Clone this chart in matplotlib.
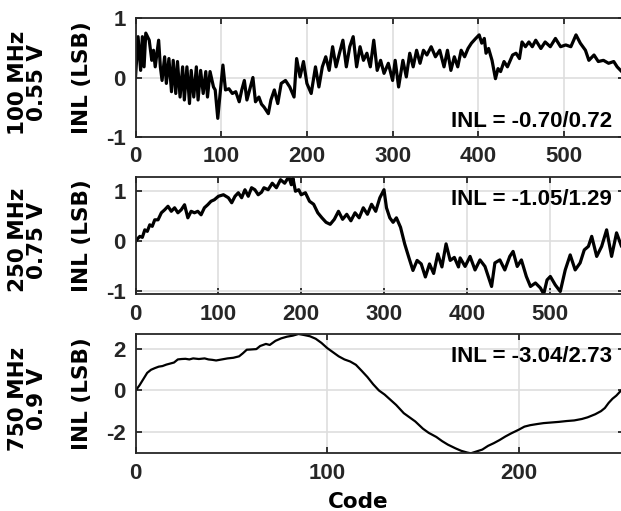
import numpy as np
import matplotlib
matplotlib.use('Agg')
import matplotlib.pyplot as plt

# ---- data (code, INL in LSB) ----
p1_code = [0, 3, 6, 8, 10, 12, 16, 19, 21, 23, 27, 29, 31, 34, 36, 39, 42, 44, 47, 49,
           52, 55, 57, 60, 63, 65, 68, 71, 73, 76, 79, 82, 84, 87, 91, 93, 96, 98, 102, 105,
           109, 113, 117, 121, 124, 127, 130, 134, 137, 140, 144, 147, 150, 155, 158, 162, 166, 170, 175, 180,
           185, 188, 192, 196, 200, 205, 210, 214, 218, 222, 226, 230, 234, 238, 242, 246, 250, 254, 258, 262,
           266, 270, 274, 278, 282, 286, 290, 295, 300, 303, 307, 312, 316, 320, 324, 328, 332, 336, 340, 345,
           350, 355, 360, 364, 368, 372, 376, 380, 384, 388, 392, 397, 401, 404, 407, 409, 412, 416, 420, 423,
           426, 430, 434, 440, 444, 448, 451, 455, 459, 463, 467, 473, 478, 484, 490, 496, 502, 508, 514, 519,
           525, 529, 535, 540, 546, 552, 558, 562, 566, 570]
p1_inl = [0.0, 0.69, 0.12, 0.69, 0.18, 0.75, 0.63, 0.29, 0.46, 0.18, 0.63, 0.18, -0.05, 0.35, -0.10, 0.32, -0.24, 0.29, -0.27, 0.27,
          -0.33, 0.18, -0.38, 0.18, -0.44, 0.12, -0.33, 0.18, -0.38, 0.12, -0.27, 0.10, -0.33, 0.10, -0.16, -0.21, -0.69, -0.38, 0.21, -0.21,
          -0.19, -0.27, -0.24, -0.41, -0.21, -0.05, -0.38, -0.16, 0.0, -0.41, -0.33, -0.45, -0.50, -0.61, -0.38, -0.21, -0.44, -0.10, -0.05, -0.16,
          -0.33, 0.32, 0.01, 0.27, -0.10, -0.27, 0.18, -0.16, 0.18, 0.35, 0.12, 0.52, 0.18, 0.41, 0.63, 0.18, 0.52, 0.69, 0.18, 0.52,
          0.29, 0.41, 0.18, 0.63, 0.12, 0.29, 0.07, 0.24, -0.05, 0.29, -0.16, 0.29, 0.01, 0.41, 0.18, 0.46, 0.24, 0.46, 0.38, 0.52,
          0.35, 0.46, 0.18, 0.46, 0.12, 0.35, 0.18, 0.46, 0.35, 0.49, 0.58, 0.66, 0.72, 0.58, 0.66, 0.41, 0.49, 0.29, -0.02, 0.15,
          0.10, 0.27, 0.18, 0.38, 0.41, 0.32, 0.60, 0.52, 0.60, 0.52, 0.63, 0.49, 0.60, 0.52, 0.66, 0.52, 0.55, 0.52, 0.72, 0.58,
          0.46, 0.29, 0.38, 0.27, 0.29, 0.24, 0.27, 0.18, 0.12, 0.06]

p2_code = [0, 1, 5, 8, 11, 14, 17, 20, 23, 27, 31, 35, 39, 43, 47, 51, 55, 59, 63, 67,
           71, 75, 79, 83, 87, 91, 95, 100, 106, 112, 116, 120, 124, 128, 132, 136, 140, 144, 148, 152,
           155, 160, 165, 170, 175, 180, 185, 188, 190, 193, 197, 200, 205, 210, 215, 220, 225, 230, 235, 240,
           245, 250, 255, 260, 265, 270, 275, 280, 285, 290, 295, 300, 303, 307, 311, 315, 320, 325, 330, 335,
           340, 345, 350, 355, 360, 365, 370, 375, 380, 385, 390, 392, 398, 404, 410, 416, 422, 430, 434, 440,
           446, 452, 456, 461, 466, 472, 477, 483, 489, 493, 497, 501, 507, 513, 519, 525, 531, 537, 542, 547,
           551, 557, 563, 569, 575, 581, 587, 590]
p2_inl = [0.0, 0.03, 0.10, 0.08, 0.23, 0.20, 0.33, 0.30, 0.43, 0.43, 0.57, 0.63, 0.70, 0.60, 0.67, 0.57, 0.63, 0.73, 0.47, 0.60,
          0.57, 0.60, 0.53, 0.67, 0.73, 0.80, 0.83, 0.90, 0.93, 0.87, 0.77, 0.90, 0.97, 0.87, 1.03, 0.90, 1.07, 1.03, 0.93, 0.98,
          1.07, 1.03, 1.16, 1.07, 1.23, 1.16, 1.29, 1.13, 1.26, 1.00, 1.03, 0.93, 0.97, 0.80, 0.74, 0.57, 0.47, 0.38, 0.34, 0.44,
          0.60, 0.44, 0.54, 0.41, 0.57, 0.47, 0.67, 0.54, 0.74, 0.60, 0.87, 1.03, 0.67, 0.47, 0.38, 0.47, 0.28, -0.05, -0.32, -0.58,
          -0.38, -0.45, -0.71, -0.45, -0.64, -0.25, -0.51, -0.05, -0.38, -0.32, -0.51, -0.33, -0.50, -0.30, -0.57, -0.37, -0.50, -0.90, -0.43, -0.37,
          -0.57, -0.30, -0.20, -0.50, -0.37, -0.70, -0.90, -0.83, -0.93, -1.05, -0.77, -0.70, -0.87, -1.00, -0.57, -0.27, -0.57, -0.43, -0.17, -0.10,
          0.10, -0.30, -0.10, 0.23, -0.30, 0.17, -0.10, -0.15]

p3_code = [0, 2, 4, 6, 8, 10, 12, 14, 16, 18, 20, 22, 24, 26, 28, 30, 33, 36, 38, 40,
           42, 45, 48, 51, 54, 56, 58, 60, 63, 65, 68, 70, 73, 76, 79, 82, 85, 88, 91, 94,
           97, 100, 103, 106, 109, 112, 115, 118, 121, 124, 127, 130, 133, 136, 140, 143, 146, 150, 153, 157,
           160, 163, 167, 170, 173, 175, 178, 181, 184, 187, 190, 193, 196, 200, 203, 206, 210, 213, 217, 221,
           225, 229, 233, 236, 240, 243, 245, 247, 249, 251, 253, 255]
p3_inl = [0.0, 0.25, 0.55, 0.85, 1.00, 1.08, 1.15, 1.18, 1.25, 1.30, 1.35, 1.50, 1.52, 1.53, 1.50, 1.55, 1.52, 1.55, 1.50, 1.48,
          1.45, 1.50, 1.55, 1.58, 1.65, 1.80, 1.97, 1.98, 2.00, 2.15, 2.25, 2.20, 2.40, 2.52, 2.60, 2.65, 2.73, 2.68, 2.62, 2.50,
          2.30, 2.05, 1.85, 1.65, 1.50, 1.40, 1.24, 0.95, 0.65, 0.30, 0.00, -0.20, -0.45, -0.70, -1.10, -1.30, -1.50, -1.85, -2.05, -2.25,
          -2.45, -2.62, -2.80, -2.92, -3.00, -3.04, -2.95, -2.86, -2.68, -2.55, -2.40, -2.23, -2.08, -1.90, -1.75, -1.68, -1.62, -1.58, -1.55, -1.52,
          -1.48, -1.45, -1.38, -1.30, -1.15, -1.00, -0.85, -0.60, -0.40, -0.25, -0.05, 0.10]

conditions = ['100 MHz\n0.55 V', '250 MHz\n0.75 V', '750 MHz\n0.9 V']
inl_text = ['INL = -0.70/0.72', 'INL = -1.05/1.29', 'INL = -3.04/2.73']
x_max = [570, 590, 255]
y_lims = [(-1, 1), (-1.05, 1.29), (-3.04, 2.73)]
y_ticks = [[-1, 0, 1], [-1, 0, 1], [-2, 0, 2]]
x_ticks = [[0, 100, 200, 300, 400, 500], [0, 100, 200, 300, 400, 500], [0, 100, 200]]

plt.rcParams['font.family'] = ['Liberation Sans', 'DejaVu Sans']
plt.rcParams['font.weight'] = 'bold'
plt.rcParams['axes.unicode_minus'] = False

W, H = 621.0, 511.0
fig = plt.figure(figsize=(W / 100, H / 100), dpi=100)

# axes boxes in pixels: (left, right, top, bottom); right spine sits just past the crop
boxes = [(135.5, 624, 18.3, 136.7), (135.7, 624, 176.7, 294.0), (135.7, 624, 334.0, 453.3)]
text_base = [127, 205, 362]
line_w = [2.3, 2.3, 1.6]
series = [(p1_code, p1_inl), (p2_code, p2_inl), (p3_code, p3_inl)]
dark = '#262626'

for i, (l, r, t, b) in enumerate(boxes):
    ax = fig.add_axes([l / W, 1 - b / H, (r - l) / W, (b - t) / H])
    code, inl = series[i]
    ax.plot(code, inl, color='black', linewidth=line_w[i])
    ax.set_xlim(0, x_max[i])
    ax.set_ylim(*y_lims[i])
    ax.set_xticks(x_ticks[i])
    ax.set_yticks(y_ticks[i])
    ax.set_axisbelow(True)
    ax.grid(True, color='#dedede', linewidth=1.2)
    for s in ax.spines.values():
        s.set_color(dark)
        s.set_linewidth(1.3)
    ax.tick_params(direction='in', length=4.5, width=1.3, top=True, right=True,
                   labelsize=16, pad=7, colors=dark)

    cy = (t + b) / 2
    fig.text(82 / W, 1 - cy / H, 'INL (LSB)', rotation=90, ha='center', va='center',
             family='DejaVu Sans', weight='bold', fontsize=15.5)
    fig.text(27.5 / W, 1 - (cy + 5) / H, conditions[i], rotation=90, ha='center', va='center',
             multialignment='center', family='DejaVu Sans', weight='bold', fontsize=15.5,
             linespacing=0.9)
    fig.text(612 / W, 1 - text_base[i] / H, inl_text[i], ha='right', va='baseline',
             fontsize=16, weight='bold', color='black')

fig.text(358 / W, 1 - 502 / H, 'Code', ha='center', va='center',
         family='DejaVu Sans', weight='bold', fontsize=15.5)

fig.savefig('out.png', dpi=100)
